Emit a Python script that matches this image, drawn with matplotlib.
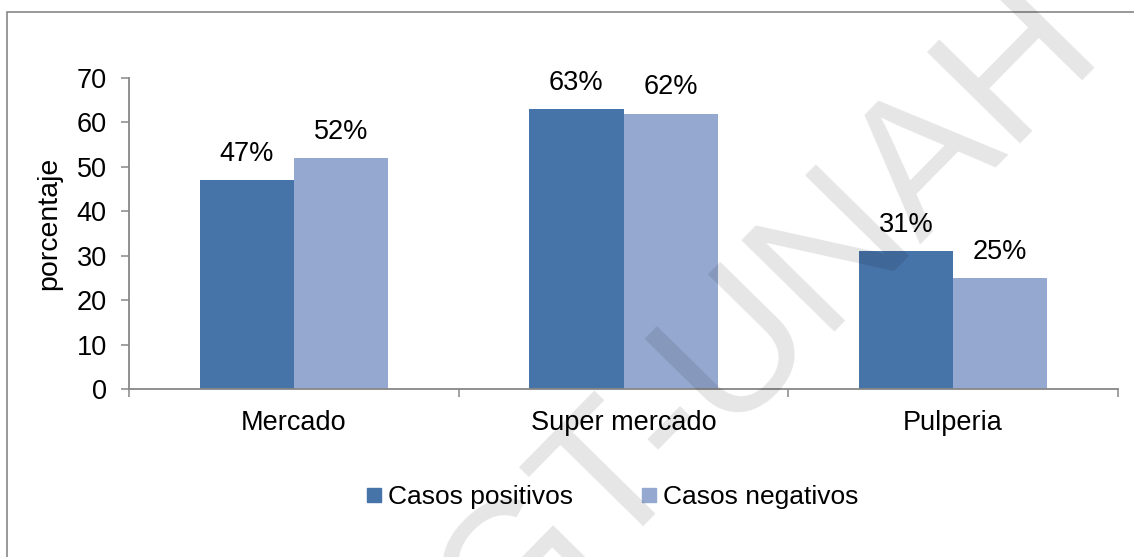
import numpy as np
import matplotlib
matplotlib.use("Agg")
from matplotlib import pyplot as plt
from matplotlib.lines import Line2D
from matplotlib.patches import Rectangle

# data
categorias = ['Mercado', 'Super mercado', 'Pulperia']
positivos = [47, 63, 31]
negativos = [52, 62, 25]
series = ['Casos positivos', 'Casos negativos']
yticks = [0, 10, 20, 30, 40, 50, 60, 70]

plt.rcParams['font.family'] = ['Liberation Sans', 'DejaVu Sans']

c_pos = '#4673A8'
c_neg = '#95A9D0'
gris = '#878787'
fs = 19.5

fig = plt.figure(figsize=(11.34, 5.57), dpi=100)
ax = fig.add_axes([0.1138, 0.3016, 0.8721, 0.5583])

x = np.arange(len(categorias))
w = 2 / 7
b1 = ax.bar(x - w / 2, positivos, w, color=c_pos, zorder=2)
b2 = ax.bar(x + w / 2, negativos, w, color=c_neg, zorder=2)

# etiquetas de porcentaje sobre las barras
for barras in (b1, b2):
    for r in barras:
        ax.annotate('%d%%' % round(r.get_height()),
                    (r.get_x() + r.get_width() / 2, r.get_height()),
                    xytext=(0, 14), textcoords='offset points',
                    ha='center', va='baseline', fontsize=fs)

ax.set_xlim(-0.5, len(categorias) - 0.5)
ax.set_ylim(0, 70)
ax.set_yticks(yticks)
ax.set_xticks(x)
ax.set_xticklabels(categorias)
ax.set_xticks(np.arange(len(categorias) + 1) - 0.5, minor=True)

ax.tick_params(axis='x', which='major', length=0, pad=15, labelsize=fs)
ax.tick_params(axis='x', which='minor', length=6, width=1.1, color=gris)
ax.tick_params(axis='y', length=6, width=1.1, color=gris, pad=10, labelsize=fs)

for s in ('top', 'right'):
    ax.spines[s].set_visible(False)
for s in ('left', 'bottom'):
    ax.spines[s].set_color(gris)
    ax.spines[s].set_linewidth(1.3)

ax.set_ylabel('porcentaje', fontsize=20.5)
ax.yaxis.set_label_coords(-0.068, 0.534)

handles = [Line2D([], [], marker='s', ls='', color=c_pos, markersize=9.5),
           Line2D([], [], marker='s', ls='', color=c_neg, markersize=9.5)]
fig.legend(handles, series, loc='center', bbox_to_anchor=(0.54, 0.108),
           ncol=2, frameon=False, fontsize=19, handlelength=0.55,
           handletextpad=0.25, columnspacing=2.6)

# marco del grafico
fig.patches.append(Rectangle((0.0062, -0.1), 1.2, 1.0785, transform=fig.transFigure,
                             fill=False, edgecolor=gris, linewidth=1.2))

# marca de agua
fig.text(0.677, 0.425, 'GT-UNAH', fontsize=137, rotation=45.5, color='black',
         alpha=0.1, ha='center', va='center', zorder=10)

fig.savefig('out.png', dpi=100)
